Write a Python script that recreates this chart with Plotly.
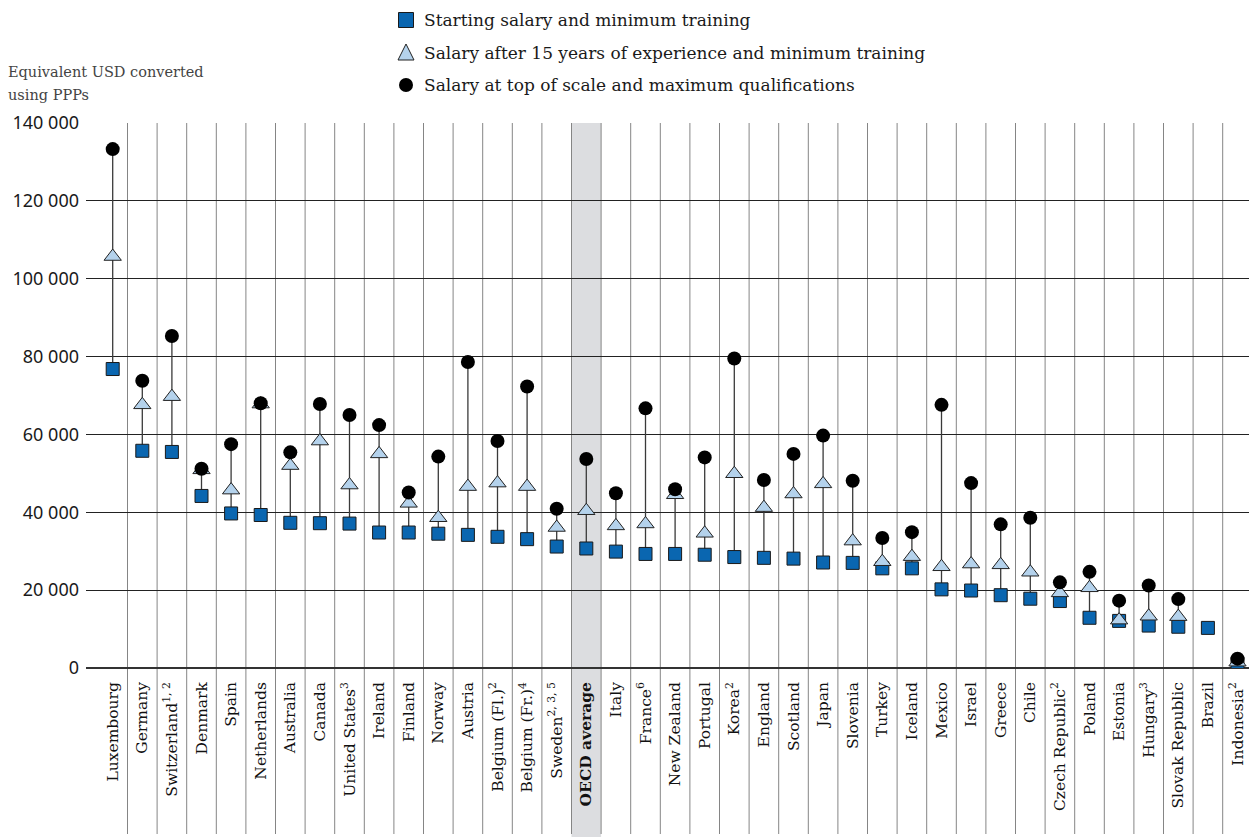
import plotly.graph_objects as go

countries = ["Luxembourg", "Germany", "Switzerland<sup>1, 2</sup>", "Denmark", "Spain", "Netherlands",
             "Australia", "Canada", "United States<sup>3</sup>", "Ireland", "Finland", "Norway", "Austria",
             "Belgium (Fl.)<sup>2</sup>", "Belgium (Fr.)<sup>4</sup>", "Sweden<sup>2, 3, 5</sup>",
             "<b>OECD average</b>", "Italy", "France<sup>6</sup>", "New Zealand", "Portugal",
             "Korea<sup>2</sup>", "England", "Scotland", "Japan", "Slovenia", "Turkey", "Iceland",
             "Mexico", "Israel", "Greece", "Chile", "Czech Republic<sup>2</sup>", "Poland", "Estonia",
             "Hungary<sup>3</sup>", "Slovak Republic", "Brazil", "Indonesia<sup>2</sup>"]

starting = [76800, 55800, 55500, 44200, 39700, 39300, 37300, 37200, 37100, 34800, 34800, 34500, 34200,
            33700, 33100, 31200, 30700, 29900, 29300, 29300, 29100, 28500, 28300, 28100, 27100, 27000,
            25600, 25600, 20200, 19900, 18700, 17800, 17200, 12900, 12100, 10900, 10600, 10300, 1200]

after15 = [105700, 67600, 69700, 50900, 45700, 67800, 52000, 58300, 47000, 55000, 42300, 38600, 46600,
           47500, 46600, 36100, 40400, 36500, 37000, 44500, 34600, 49900, 41200, 44700, 47300, 32600,
           27300, 28600, 26000, 26700, 26500, 24600, 19300, 20600, 12300, 13300, 13200, None, 1500]

top = [133300, 73800, 85300, 51200, 57500, 68000, 55400, 67800, 65000, 62400, 45100, 54300, 78600,
       58300, 72300, 40900, 53700, 44900, 66700, 45900, 54100, 79500, 48300, 55000, 59700, 48100,
       33400, 34900, 67600, 47500, 36900, 38600, 22000, 24700, 17300, 21200, 17700, None, 2400]

y_ticks = [0, 20000, 40000, 60000, 80000, 100000, 120000, 140000]
y_ticktext = ["0", "20 000", "40 000", "60 000", "80 000", "100 000", "120 000", "140 000"]

legend_labels = ["Starting salary and minimum training",
                 "Salary after 15 years of experience and minimum training",
                 "Salary at top of scale and maximum qualifications"]

W, H = 1249, 837
L, R, T, B = 86, 0, 123, 169
PW, PH = W - L - R, H - T - B


def px(xp):
    return (xp - L) / PW


def py(yp):
    return (H - B - yp) / PH


xs = list(range(len(countries)))
oecd_idx = 16

fig = go.Figure()

# connecting lines
lx, ly = [], []
for i in xs:
    vals = [v for v in (starting[i], after15[i], top[i]) if v is not None]
    if len(vals) > 1:
        lx += [i, i, None]
        ly += [min(vals), max(vals), None]
fig.add_trace(go.Scatter(x=lx, y=ly, mode="lines", line=dict(color="#3a3a3a", width=1.3),
                         hoverinfo="skip", showlegend=False))

fig.add_trace(go.Scatter(x=xs, y=starting, mode="markers", name=legend_labels[0],
                         marker=dict(symbol="square", size=13, color="#0a66b0",
                                     line=dict(color="#1a1a1a", width=1)), showlegend=False))
fig.add_trace(go.Scatter(x=xs, y=after15, mode="markers", name=legend_labels[1],
                         marker=dict(symbol="triangle-up", size=15, color="#b4d2ec",
                                     line=dict(color="#222222", width=1)), showlegend=False))
fig.add_trace(go.Scatter(x=xs, y=top, mode="markers", name=legend_labels[2],
                         marker=dict(symbol="circle", size=14, color="#000000",
                                     line=dict(color="#000000", width=0)), showlegend=False))

shapes = []
bottom_paper = py(837)
# OECD band
shapes.append(dict(type="rect", xref="x", yref="paper", x0=oecd_idx - 0.5, x1=oecd_idx + 0.5,
                   y0=bottom_paper, y1=1, fillcolor="#dcdde0", line=dict(width=0), layer="below"))
# vertical separators
for i in range(len(countries) - 1):
    shapes.append(dict(type="line", xref="x", yref="paper", x0=i + 0.5, x1=i + 0.5,
                       y0=py(834), y1=1, line=dict(color="#858585", width=1), layer="below"))

# legend symbols
lx0 = 406
rows = [20, 53, 85]
s = 7.5
shapes.append(dict(type="rect", xref="paper", yref="paper",
                   x0=px(lx0 - s), x1=px(lx0 + s), y0=py(rows[0] + s), y1=py(rows[0] - s),
                   fillcolor="#0a66b0", line=dict(color="#1a1a1a", width=1)))
tri = "M {a},{b} L {c},{d} L {e},{f} Z".format(
    a=px(lx0 - 8), b=py(rows[1] + 7), c=px(lx0 + 8), d=py(rows[1] + 7), e=px(lx0), f=py(rows[1] - 9))
shapes.append(dict(type="path", xref="paper", yref="paper", path=tri,
                   fillcolor="#b4d2ec", line=dict(color="#222222", width=1)))
shapes.append(dict(type="circle", xref="paper", yref="paper",
                   x0=px(lx0 - 7), x1=px(lx0 + 7), y0=py(rows[2] + 7), y1=py(rows[2] - 7),
                   fillcolor="#000000", line=dict(color="#000000", width=0)))

annotations = []
for lab, r in zip(legend_labels, rows):
    annotations.append(dict(text=lab, xref="paper", yref="paper", x=px(422), y=py(r),
                            xanchor="left", yanchor="middle", showarrow=False,
                            font=dict(family="DejaVu Serif", size=17, color="#1a1a1a")))
for txt, yy in (("Equivalent USD converted", 72), ("using PPPs", 95)):
    annotations.append(dict(text=txt, xref="paper", yref="paper",
                            x=px(6), y=py(yy), xanchor="left", yanchor="middle", showarrow=False,
                            font=dict(family="DejaVu Serif", size=14.5, color="#444444")))

fig.update_layout(
    width=W, height=H,
    margin=dict(l=L, r=R, t=T, b=B, pad=0),
    plot_bgcolor="rgba(0,0,0,0)", paper_bgcolor="white",
    shapes=shapes, annotations=annotations,
    showlegend=False,
    xaxis=dict(range=[(L - 112.7) / 29.6, (W - 112.7) / 29.6],
               tickmode="array", tickvals=xs, ticktext=countries, tickangle=-90,
               showgrid=False, zeroline=False, showline=False, ticks="",
               tickfont=dict(family="DejaVu Serif", size=15.5, color="#111111"),
               ticklabelstandoff=10),
    yaxis=dict(range=[0, 140000], tickmode="array", tickvals=y_ticks, ticktext=y_ticktext,
               showgrid=True, gridcolor="#222222", gridwidth=1.3,
               zeroline=True, zerolinecolor="#333333", zerolinewidth=2.2,
               showline=False, ticks="",
               tickfont=dict(family="Noto Sans", size=18, color="#1a1a1a"),
               ticklabelstandoff=6),
)

fig.write_html("out.html", config={"displayModeBar": False},
               post_script="document.body.style.margin='0';document.body.style.overflow='hidden';")
